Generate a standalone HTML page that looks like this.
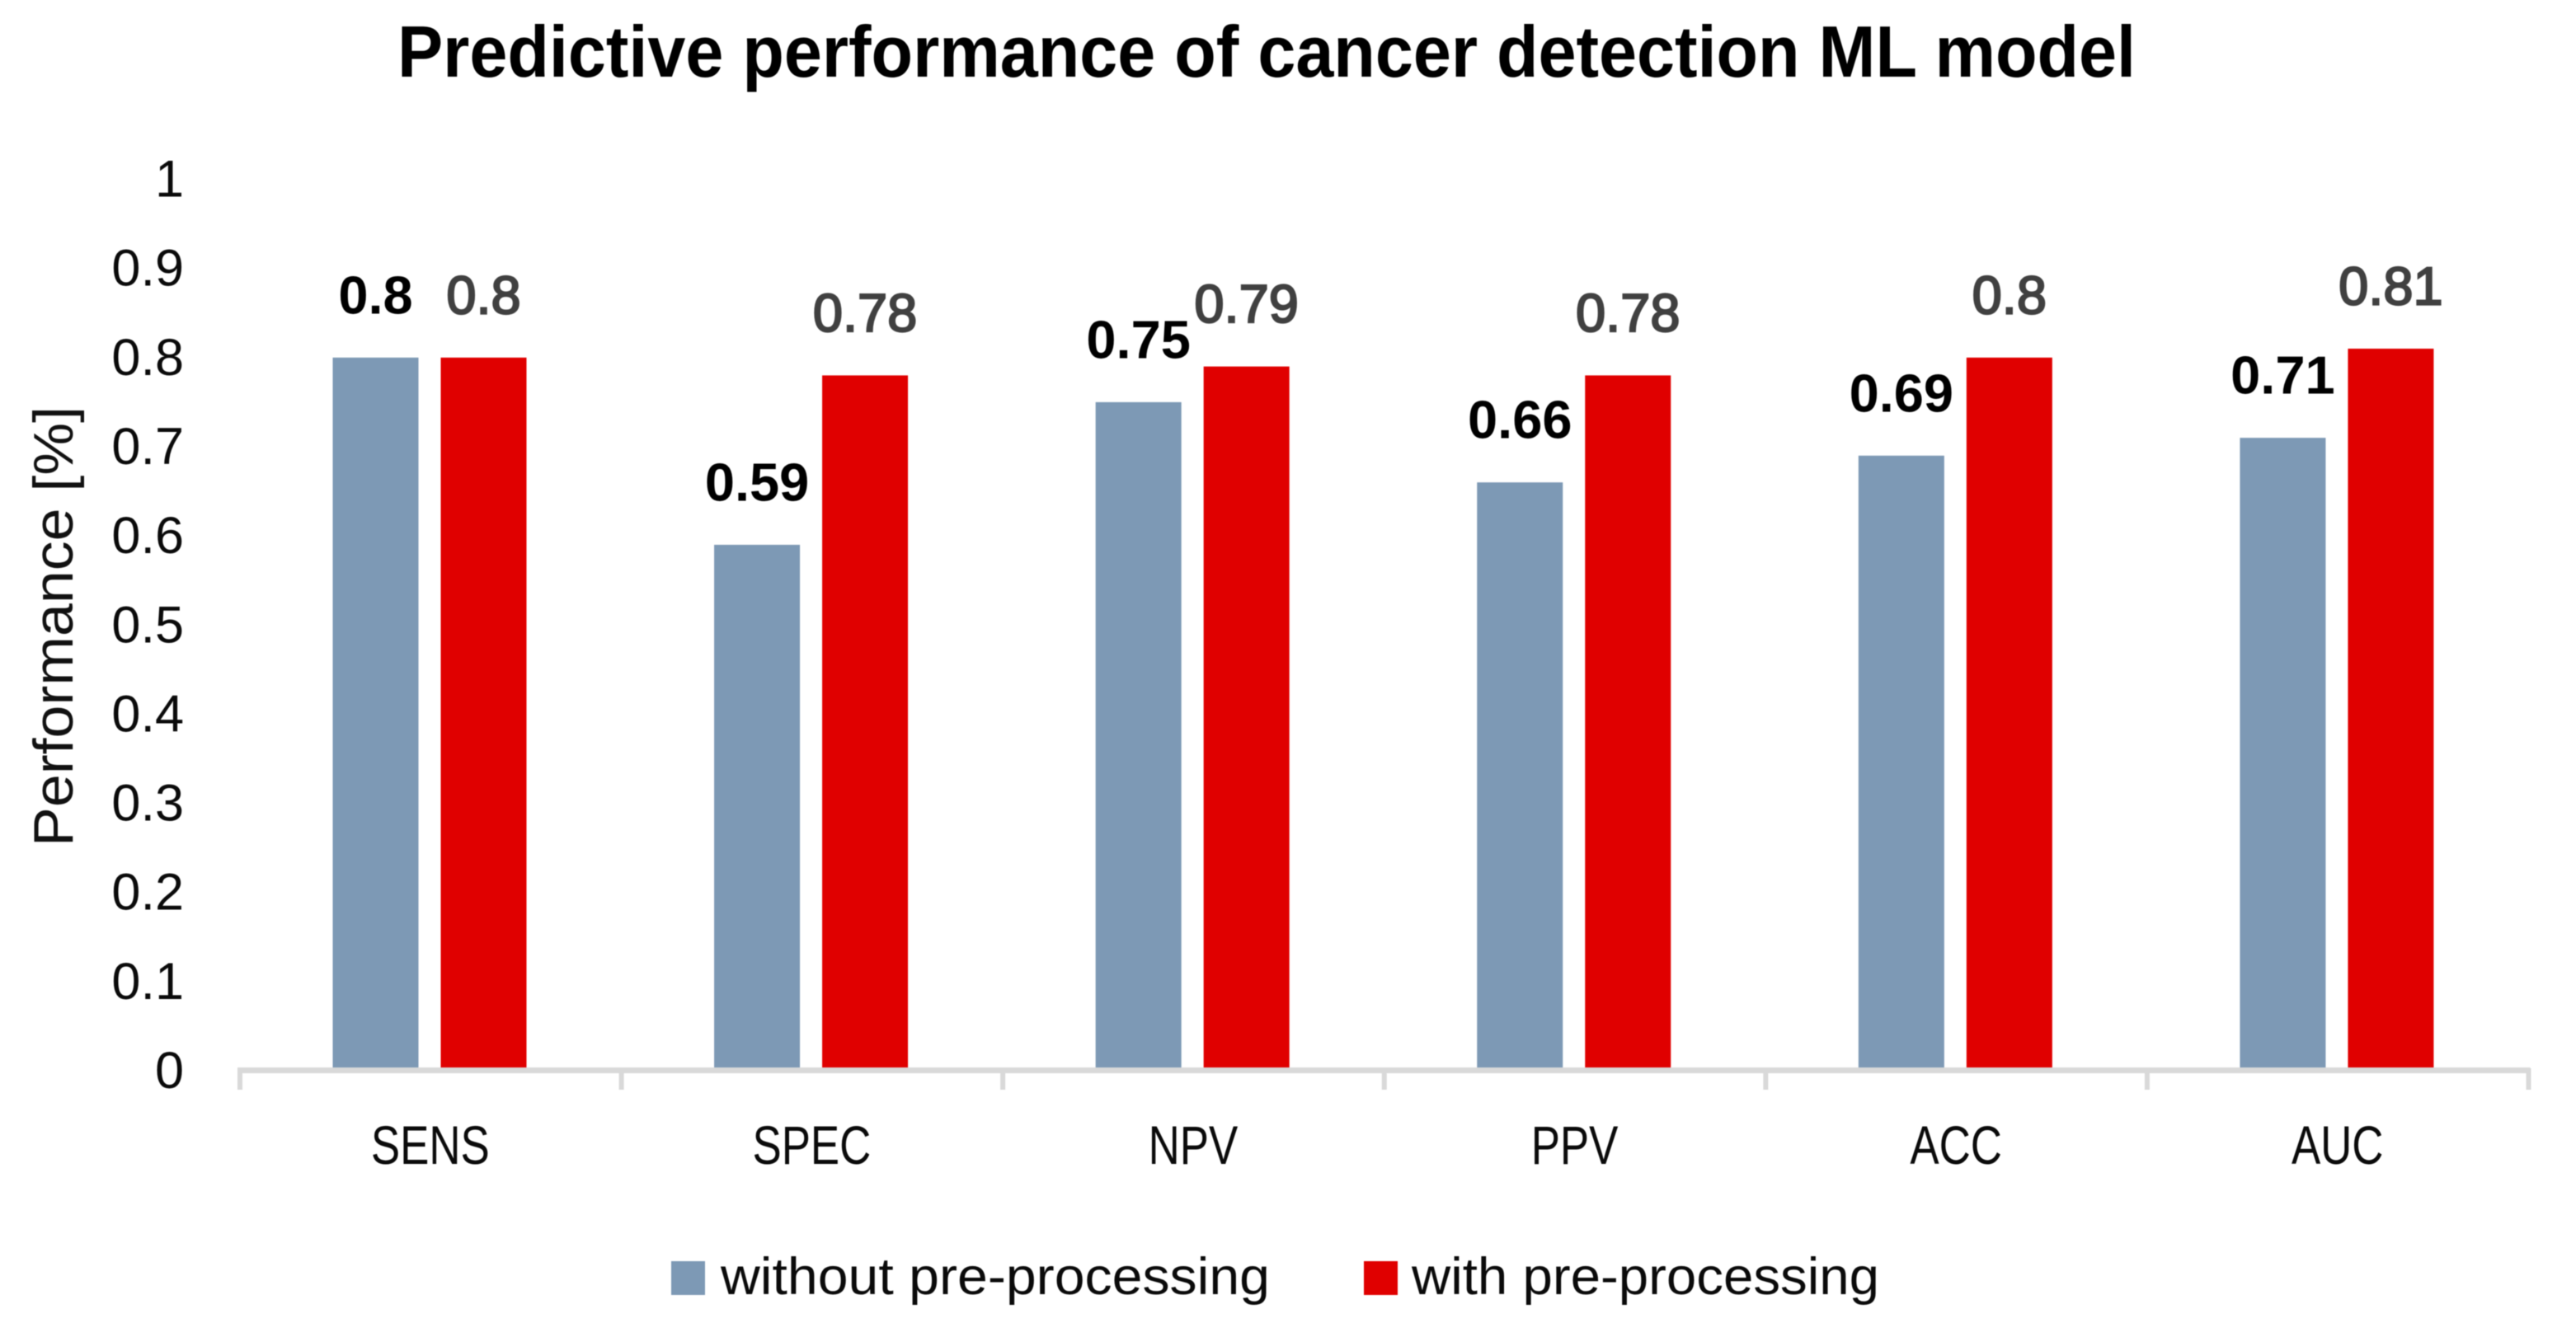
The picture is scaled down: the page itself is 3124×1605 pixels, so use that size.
<!DOCTYPE html>
<html lang="en">
<head>
<meta charset="utf-8">
<title>Predictive performance of cancer detection ML model</title>
<style>
  html, body { margin: 0; padding: 0; background: #ffffff; width: 3124px; height: 1605px; overflow: hidden; }
  svg { display: block; filter: blur(0.6px); }
  text { font-family: "Liberation Sans", sans-serif; }
</style>
</head>
<body>
<svg id="chart" xmlns="http://www.w3.org/2000/svg" width="3124" height="1605" viewBox="0 0 3124 1605">
  <rect x="0" y="0" width="3124" height="1605" fill="#ffffff"/>
  <text x="482" y="93" font-size="88" font-weight="700" fill="#000000" textLength="2108" lengthAdjust="spacingAndGlyphs">Predictive performance of cancer detection ML model</text>
  <text transform="translate(88 760) rotate(-90)" text-anchor="middle" font-size="68" fill="#111111" textLength="534" lengthAdjust="spacingAndGlyphs">Performance [%]</text>
  <g id="bars"></g>
  <g id="x-axis"></g>
  <g id="y-axis"></g>
  <g id="data-labels"></g>
  <g>
    <g>
      <rect x="814" y="1530" width="41" height="41" fill="#7d99b5"/>
      <text x="874" y="1570" font-size="63" fill="#0a0a0a" textLength="666" lengthAdjust="spacingAndGlyphs">without pre-processing</text>
    </g>
    <g>
      <rect x="1654" y="1530" width="41" height="41" fill="#e00000"/>
      <text x="1712" y="1570" font-size="63" fill="#0a0a0a" textLength="567" lengthAdjust="spacingAndGlyphs">with pre-processing</text>
    </g>
  </g>
</svg>
<script>
const categories = ["SENS", "SPEC", "NPV", "PPV", "ACC", "AUC"];
const withoutPreProcessing = [0.8, 0.59, 0.75, 0.66, 0.69, 0.71];
const withPreProcessing = [0.8, 0.78, 0.79, 0.78, 0.8, 0.81];
const yTickLabels = ["0", "0.1", "0.2", "0.3", "0.4", "0.5", "0.6", "0.7", "0.8", "0.9", "1"];

const NS = "http://www.w3.org/2000/svg";
const axisLeft = 290.5;
const axisRight = 3066;
const groupWidth = (axisRight - axisLeft) / categories.length;
const barWidth = 104;
const blueOffset = 113;
const redOffset = 244;
const BLUE = "#7d99b5";
const RED = "#e00000";
const AXIS = "#d9d9d9";

function yScale(v) { return 1298 - 1081.5 * v; }
function groupX(i) { return axisLeft + i * groupWidth; }

function make(tag, attrs, parent) {
  const el = document.createElementNS(NS, tag);
  for (const k in attrs) el.setAttribute(k, attrs[k]);
  parent.appendChild(el);
  return el;
}

const barsG = document.getElementById("bars");
const labelsG = document.getElementById("data-labels");
const xG = document.getElementById("x-axis");
const yG = document.getElementById("y-axis");

categories.forEach(function (cat, i) {
  const key = cat.toLowerCase();
  const vA = withoutPreProcessing[i];
  const vB = withPreProcessing[i];
  const xA = groupX(i) + blueOffset;
  const xB = groupX(i) + redOffset;

  const barA = make("rect", { x: xA, y: yScale(vA) + 1, width: barWidth, height: yScale(0) - yScale(vA) - 1, fill: BLUE }, barsG);
  
  

  const barB = make("rect", { x: xB, y: yScale(vB) + 1, width: barWidth, height: yScale(0) - yScale(vB) - 1, fill: RED }, barsG);
  
  

  const labA = make("text", { x: xA + barWidth / 2, y: yScale(vA) - 52.5, "text-anchor": "middle", "font-size": 65, "font-weight": 700, fill: "#000000" }, labelsG);
  labA.textContent = String(vA);
  
  

  const labB = make("text", { x: xB + barWidth / 2, y: yScale(vB) - 52.5, "text-anchor": "middle", "font-size": 65, fill: "#404040", stroke: "#404040", "stroke-width": 2.2 }, labelsG);
  labB.textContent = String(vB);
  
  

  const tick = make("rect", { x: groupX(i) - 2.5, y: 1296, width: 6, height: 26, fill: AXIS }, xG);
  
  

  const catLabel = make("text", { x: groupX(i) + groupWidth / 2, y: 1412, "text-anchor": "middle", "font-size": 66, fill: "#0a0a0a" }, xG);
  catLabel.textContent = cat;
  catLabel.setAttribute('textLength', (catLabel.getComputedTextLength() * 0.8).toFixed(1));
  catLabel.setAttribute('lengthAdjust', 'spacingAndGlyphs');
  
  
});

const axisLine = make("rect", { x: axisLeft - 2.5, y: 1295, width: axisRight - axisLeft + 5, height: 7, fill: AXIS }, xG);



const lastTick = make("rect", { x: axisRight - 2.5, y: 1296, width: 6, height: 26, fill: AXIS }, xG);



yTickLabels.forEach(function (t) {
  const lab = make("text", { x: 223, y: yScale(parseFloat(t)) + 22, "text-anchor": "end", "font-size": 63, fill: "#0a0a0a" }, yG);
  lab.textContent = t;
  
  
});
</script>
</body>
</html>
